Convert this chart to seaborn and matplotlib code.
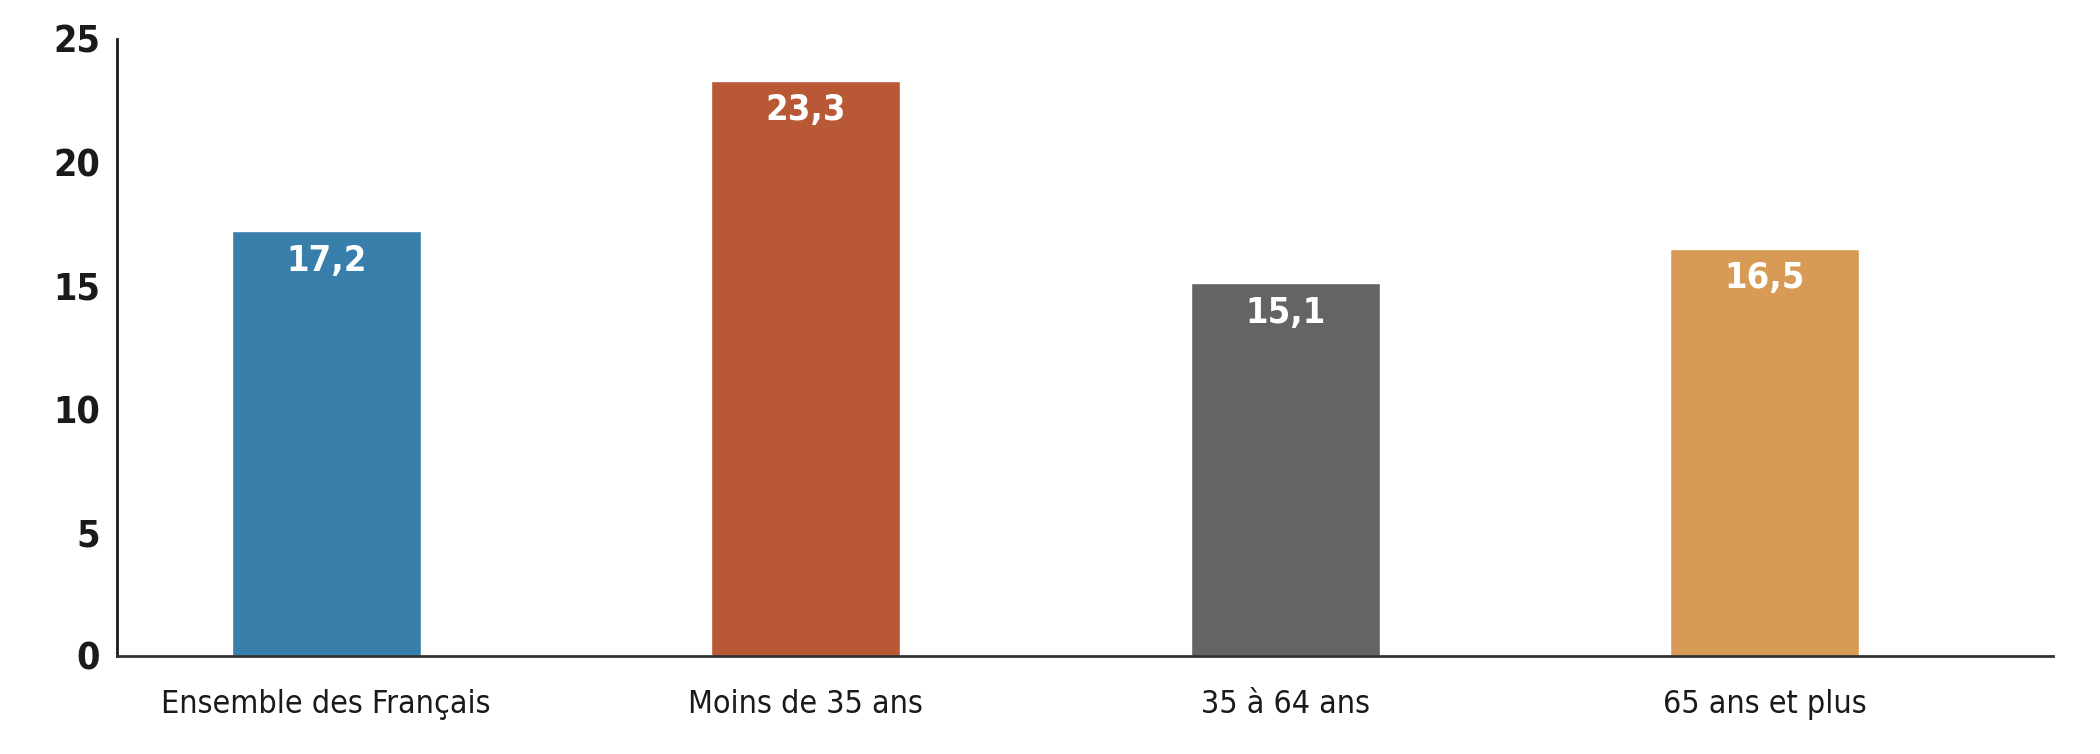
import seaborn as sns
import pandas as pd
import matplotlib.pyplot as plt

categories = ['Ensemble des Français', 'Moins de 35 ans', '35 à 64 ans', '65 ans et plus']
values = [17.2, 23.3, 15.1, 16.5]
labels = ['17,2', '23,3', '15,1', '16,5']
colors = ['#377eab', '#b85835', '#646464', '#d79b55']
yticks = [0, 5, 10, 15, 20, 25]

sns.set_style('white')
plt.rcParams['font.family'] = ['DejaVu Sans']
plt.rcParams['font.stretch'] = 'condensed'

df = pd.DataFrame({'cat': categories, 'val': values})

fig = plt.figure(figsize=(21, 7.54), dpi=100)
ax = fig.add_axes([0.0555, 0.13, 0.922, 0.8185])
sns.barplot(data=df, x='cat', y='val', hue='cat', palette=colors,
            width=0.394, legend=False, ax=ax, saturation=1)

# value labels inside the top of each bar
for i, (v, t) in enumerate(zip(values, labels)):
    ax.text(i, v - 0.5, t, ha='center', va='top', color='white',
            fontsize=26, fontweight='bold', fontstretch='condensed')

ax.set_xlim(-0.437, 3.6)
ax.set_ylim(0, 25)
ax.set_yticks(yticks)
ax.set_yticklabels([str(t) for t in yticks], fontsize=27, fontweight='bold',
                   color='#1a1a1a', fontstretch='condensed')
ax.set_xticks(range(len(categories)))
ax.set_xticklabels(categories, fontsize=23, color='#1a1a1a', fontstretch='condensed')
ax.tick_params(axis='x', length=0, pad=24)
ax.tick_params(axis='y', length=0, pad=12)
ax.set_xlabel('')
ax.set_ylabel('')
for s in ['top', 'right']:
    ax.spines[s].set_visible(False)
ax.spines['left'].set_color('#1a1a1a')
ax.spines['left'].set_linewidth(2)
ax.spines['bottom'].set_color('#333333')
ax.spines['bottom'].set_linewidth(2)

plt.savefig('out.png', dpi=100)
plt.close()
